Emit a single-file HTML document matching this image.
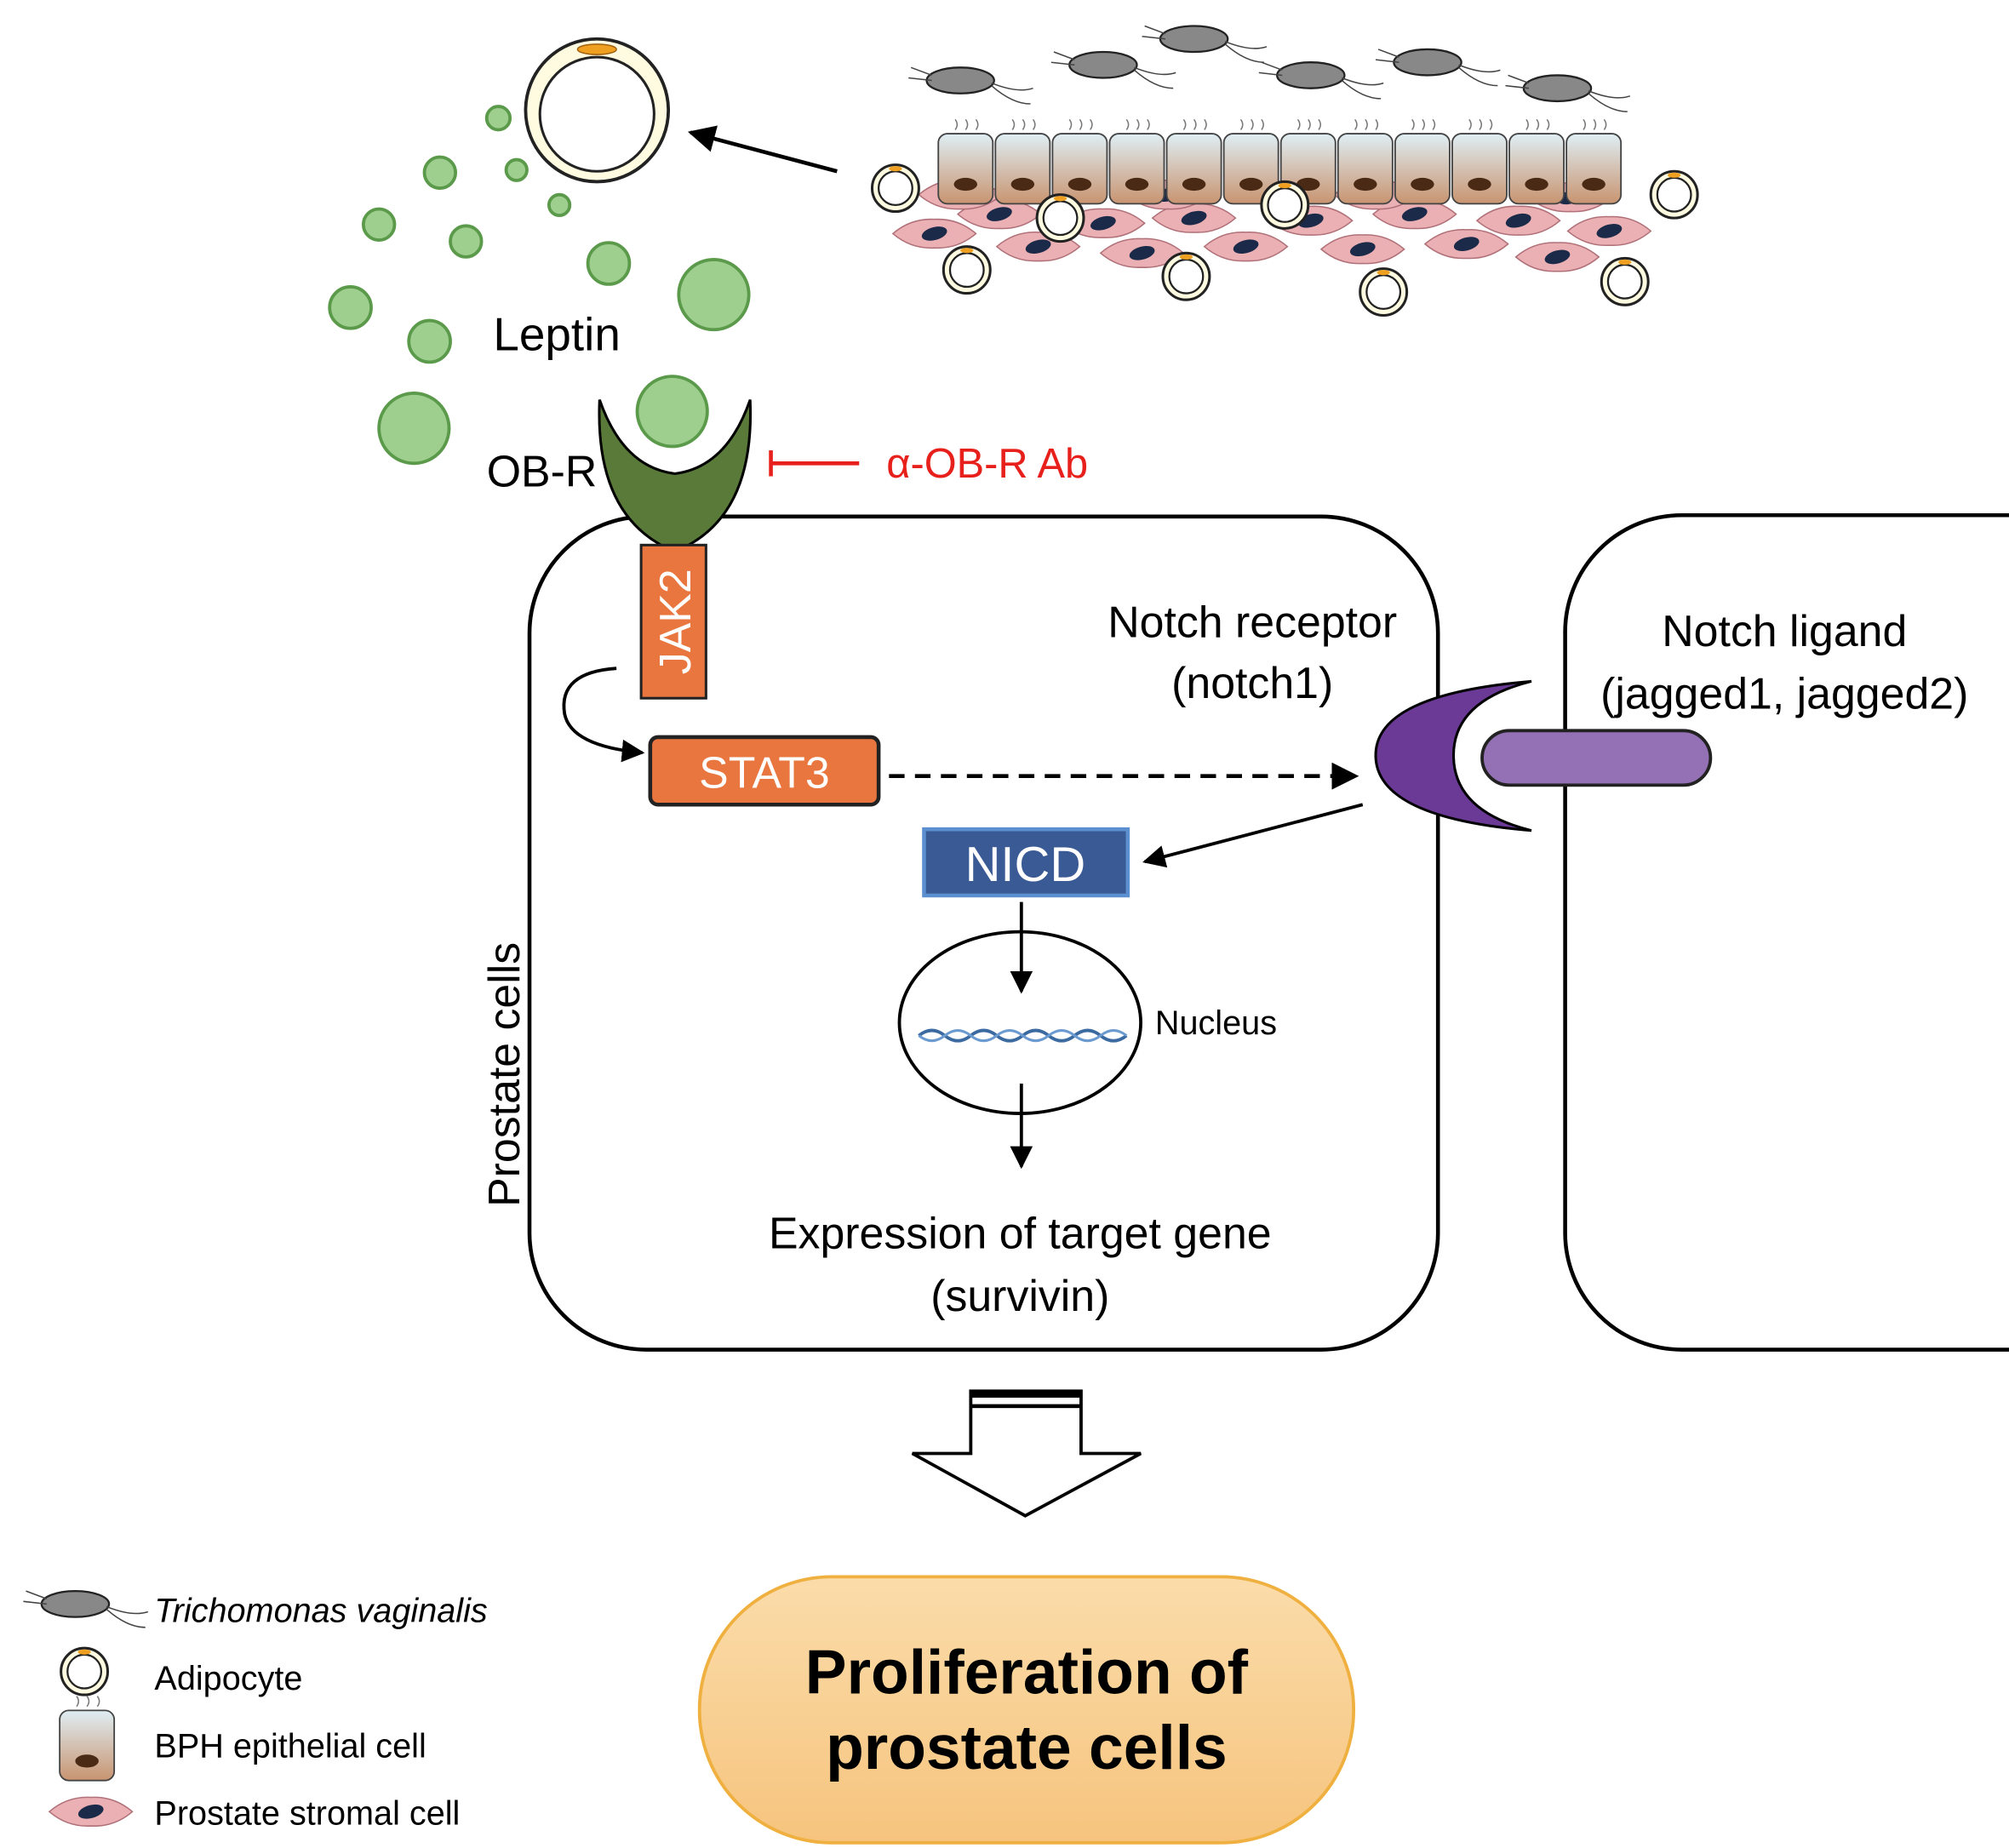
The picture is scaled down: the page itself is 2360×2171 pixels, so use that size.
<!DOCTYPE html>
<html><head><meta charset="utf-8"><style>html,body{margin:0;padding:0;background:#fff}svg{display:block}</style></head>
<body>
<svg width="2360" height="2171" viewBox="0 0 1548 1424" xmlns="http://www.w3.org/2000/svg" font-family="'Liberation Sans', sans-serif">
<defs>
<marker id="ah" viewBox="0 0 10 10" refX="9" refY="5" markerWidth="7" markerHeight="7" orient="auto"><path d="M0,0 L10,5 L0,10 z" fill="#000"/></marker>
<linearGradient id="epi" x1="0" y1="0" x2="0" y2="1"><stop offset="0" stop-color="#dfeef4"/><stop offset="1" stop-color="#c89470"/></linearGradient>
<linearGradient id="pro" x1="0" y1="0" x2="0" y2="1"><stop offset="0" stop-color="#fbdcaa"/><stop offset="1" stop-color="#f6c47e"/></linearGradient>
<g id="adi"><circle r="18" fill="#fffbe0" stroke="#222" stroke-width="2"/><circle r="13" fill="#fff" stroke="#222" stroke-width="1.5"/><ellipse cy="-15" rx="5" ry="2" fill="#f0a020"/></g>
<g id="str"><path d="M-32,0 Q-18,-12 0,-11 Q18,-12 32,0 Q18,12 0,11 Q-18,12 -32,0z" fill="#eab0b4" stroke="#b07078" stroke-width="1"/><ellipse rx="10" ry="5" fill="#1c2a4a" transform="rotate(-15)"/></g>
<g id="epc"><rect x="-21" y="-27" width="42" height="54" rx="7" fill="url(#epi)" stroke="#444" stroke-width="1.2"/><ellipse cy="12" rx="9" ry="5" fill="#4a2a14"/><path d="M-8,-30 q3,-4 0,-8 M0,-30 q3,-4 0,-8 M8,-30 q3,-4 0,-8" stroke="#777" fill="none" stroke-width="1"/></g>
<g id="tri"><ellipse rx="26" ry="10" fill="#888" stroke="#222" stroke-width="1.5"/><path d="M-22,-4 l-16,-6 M-22,0 l-18,-2 M24,2 q20,8 32,4 M24,4 q16,14 30,14" stroke="#444" fill="none" stroke-width="1"/></g>
</defs>

<!-- Top tissue -->
<g>
<use href="#tri" x="740" y="62"/><use href="#tri" x="850" y="50"/><use href="#tri" x="920" y="30"/><use href="#tri" x="1010" y="58"/><use href="#tri" x="1100" y="48"/><use href="#tri" x="1200" y="68"/>
<g>
<use href="#str" x="720" y="180"/><use href="#str" x="770" y="165"/><use href="#str" x="800" y="190"/><use href="#str" x="850" y="172"/><use href="#str" x="880" y="195"/><use href="#str" x="920" y="168"/><use href="#str" x="960" y="190"/><use href="#str" x="1010" y="170"/><use href="#str" x="1050" y="192"/><use href="#str" x="1090" y="165"/><use href="#str" x="1130" y="188"/><use href="#str" x="1170" y="170"/><use href="#str" x="1200" y="198"/><use href="#str" x="1240" y="178"/><use href="#str" x="740" y="150"/><use href="#str" x="900" y="150"/><use href="#str" x="1060" y="150"/><use href="#str" x="1210" y="152"/>
</g>
<use href="#epc" x="744" y="130"/><use href="#epc" x="788" y="130"/><use href="#epc" x="832" y="130"/><use href="#epc" x="876" y="130"/><use href="#epc" x="920" y="130"/><use href="#epc" x="964" y="130"/><use href="#epc" x="1008" y="130"/><use href="#epc" x="1052" y="130"/><use href="#epc" x="1096" y="130"/><use href="#epc" x="1140" y="130"/><use href="#epc" x="1184" y="130"/><use href="#epc" x="1228" y="130"/>
<use href="#adi" x="690" y="145"/><use href="#adi" x="817" y="168"/><use href="#adi" x="990" y="158"/><use href="#adi" x="1290" y="150"/><use href="#adi" x="745" y="208"/><use href="#adi" x="914" y="213"/><use href="#adi" x="1066" y="225"/><use href="#adi" x="1252" y="217"/>
</g>

<!-- adipocyte big -->
<circle cx="460" cy="85" r="55" fill="#fffbe0" stroke="#222" stroke-width="2.5"/>
<circle cx="460" cy="88" r="44" fill="#fff" stroke="#222" stroke-width="2"/>
<ellipse cx="460" cy="38" rx="15" ry="4" fill="#f0a020" stroke="#a06010"/>
<line x1="645" y1="132" x2="532" y2="102" stroke="#000" stroke-width="3" marker-end="url(#ah)"/>

<!-- leptin -->
<g fill="#9fcf8f" stroke="#5a9a4a" stroke-width="2.5">
<circle cx="384" cy="91" r="9"/><circle cx="339" cy="133" r="12"/><circle cx="398" cy="131" r="8"/><circle cx="431" cy="158" r="8"/><circle cx="292" cy="173" r="12"/><circle cx="359" cy="186" r="12"/><circle cx="469" cy="203" r="16"/><circle cx="550" cy="227" r="27"/><circle cx="270" cy="237" r="16"/><circle cx="331" cy="263" r="16"/><circle cx="319" cy="330" r="27"/>
</g>
<text x="380" y="270" font-size="36">Leptin</text>

<!-- cells -->
<rect x="408" y="398" width="700" height="642" rx="90" fill="none" stroke="#000" stroke-width="3"/>
<rect x="1206" y="397" width="500" height="643" rx="90" fill="none" stroke="#000" stroke-width="3"/>

<!-- OB-R -->
<path d="M462,308 Q480,360 520,365 Q560,360 578,308 Q582,400 520,425 Q458,400 462,308z" fill="#5a7a3a" stroke="#000" stroke-width="2"/>
<circle cx="518" cy="317" r="27" fill="#9fcf8f" stroke="#5a9a4a" stroke-width="2.5"/>
<text x="375" y="375" font-size="34">OB-R</text>
<line x1="594" y1="357" x2="662" y2="357" stroke="#e8201c" stroke-width="3"/>
<line x1="594" y1="347" x2="594" y2="367" stroke="#e8201c" stroke-width="3"/>
<text x="683" y="368" font-size="32" fill="#e8201c">α-OB-R Ab</text>

<!-- JAK2 -->
<rect x="494" y="420" width="50" height="118" fill="#e8763e" stroke="#222" stroke-width="2"/>
<text transform="translate(532,479) rotate(-90)" text-anchor="middle" font-size="34" fill="#fff">JAK2</text>
<path d="M475,515 Q430,518 435,550 Q440,575 495,580" fill="none" stroke="#000" stroke-width="2.5" marker-end="url(#ah)"/>

<!-- STAT3 -->
<rect x="501" y="568" width="176" height="52" rx="6" fill="#e8763e" stroke="#222" stroke-width="3"/>
<text x="589" y="607" text-anchor="middle" font-size="34" fill="#fff">STAT3</text>
<line x1="685" y1="598" x2="1045" y2="598" stroke="#000" stroke-width="3" stroke-dasharray="12,8" marker-end="url(#ah)"/>

<!-- Notch -->
<text x="965" y="491" text-anchor="middle" font-size="34">Notch receptor</text>
<text x="965" y="538" text-anchor="middle" font-size="34">(notch1)</text>
<path d="M1180,525 Q1060,535 1060,582 Q1060,630 1180,640 Q1120,625 1120,582 Q1120,540 1180,525z" fill="#6b3a96" stroke="#000" stroke-width="2"/>
<rect x="1142" y="563" width="176" height="42" rx="21" fill="#9470b5" stroke="#222" stroke-width="2.5"/>
<text x="1375" y="498" text-anchor="middle" font-size="34">Notch ligand</text>
<text x="1375" y="546" text-anchor="middle" font-size="34">(jagged1, jagged2)</text>
<line x1="1050" y1="620" x2="882" y2="664" stroke="#000" stroke-width="2.5" marker-end="url(#ah)"/>

<!-- NICD -->
<rect x="712" y="639" width="157" height="51" fill="#3a5a95" stroke="#5b8fd0" stroke-width="3"/>
<text x="790" y="679" text-anchor="middle" font-size="38" fill="#fff">NICD</text>
<line x1="787" y1="695" x2="787" y2="764" stroke="#000" stroke-width="2.5" marker-end="url(#ah)"/>
<ellipse cx="786" cy="788" rx="93" ry="70" fill="none" stroke="#000" stroke-width="2.5"/>
<path d="M708,798 q10,-8 20,0 t20,0 t20,0 t20,0 t20,0 t20,0 t20,0 t20,0" fill="none" stroke="#3a6aa0" stroke-width="2.5"/>
<path d="M708,798 q10,8 20,0 t20,0 t20,0 t20,0 t20,0 t20,0 t20,0 t20,0" fill="none" stroke="#6a9ad0" stroke-width="2"/>
<text x="890" y="797" font-size="26">Nucleus</text>
<line x1="787" y1="835" x2="787" y2="899" stroke="#000" stroke-width="2.5" marker-end="url(#ah)"/>
<text x="786" y="962" text-anchor="middle" font-size="34">Expression of target gene</text>
<text x="786" y="1010" text-anchor="middle" font-size="34">(survivin)</text>
<text transform="translate(400,828) rotate(-90)" text-anchor="middle" font-size="34">Prostate cells</text>

<!-- big arrow -->
<path d="M748,1072 L833,1072 L833,1120 L879,1120 L790,1168 L703,1120 L748,1120z" fill="#fff" stroke="#000" stroke-width="2.5"/>
<rect x="748" y="1072" width="85" height="5" fill="#000"/><rect x="748" y="1082" width="85" height="3" fill="#000"/>

<!-- proliferation -->
<rect x="539" y="1215" width="504" height="205" rx="102" fill="url(#pro)" stroke="#f0b040" stroke-width="2.5"/>
<text x="791" y="1305" text-anchor="middle" font-size="48" font-weight="bold">Proliferation of</text>
<text x="791" y="1363" text-anchor="middle" font-size="48" font-weight="bold">prostate cells</text>

<!-- legend -->
<use href="#tri" x="58" y="1236" transform="scale(1)"/>
<use href="#adi" x="65" y="1288"/>
<use href="#epc" x="67" y="1345"/>
<use href="#str" x="70" y="1396"/>
<text x="119" y="1250" font-size="26" font-style="italic">Trichomonas vaginalis</text>
<text x="119" y="1302" font-size="26">Adipocyte</text>
<text x="119" y="1354" font-size="26">BPH epithelial cell</text>
<text x="119" y="1406" font-size="26">Prostate stromal cell</text>
</svg>
</body></html>
